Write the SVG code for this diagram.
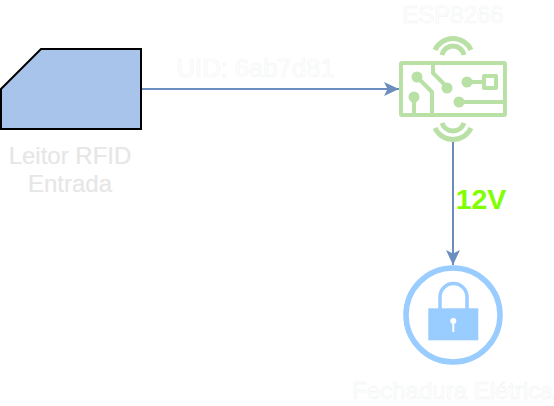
<svg xmlns="http://www.w3.org/2000/svg" width="554" height="406" viewBox="0 0 554 406">
<style>
text{font-family:"Liberation Sans",Arial,sans-serif;text-anchor:middle}
.lbl{font-size:24px;fill:#fff;stroke:#f1f4f4;stroke-width:.6}
.grey{font-size:24px;fill:#e6e6e6;stroke:#e9e9e9;stroke-width:.2}
.edge{fill:none;stroke:#6c8ebf;stroke-width:2}
.g{fill:none;stroke:#b9e0a5;stroke-width:4;stroke-linejoin:round}
.arc{fill:none;stroke:#b9e0a5;stroke-width:5}
.gf{fill:#b9e0a5}
</style>
<defs><marker id="a" markerUnits="userSpaceOnUse" markerWidth="16" markerHeight="16" refX="15" refY="7" orient="auto"><path d="M0 0L15 7L0 14L3.5 7Z" fill="#6c8ebf"/></marker></defs>
<rect width="554" height="406" fill="#fff"/>
<g id="connectors">
<path class="edge" d="M141 89H399" marker-end="url(#a)"/>
<path class="edge" d="M453 142V265" marker-end="url(#a)"/>
</g>
<g id="uid-label"><text class="lbl" x="255.500" y="77" style="font-size:25.600px">UID: 6ab7d81</text></g>
<g id="v-label"><text x="481" y="209" style="font-size:28.500px;font-weight:bold;fill:#80ff00">12V</text></g>
<g id="rfid">
<path d="M1 129V89L41 49H141V129Z" fill="#a9c4eb" stroke="#000" stroke-width="2"/>
<text class="grey" x="70" y="164">Leitor RFID</text>
<text class="grey" x="70" y="192">Entrada</text>
</g>
<g id="esp">
<text class="lbl" x="453" y="23">ESP8266</text>
<rect class="g" x="401" y="63" width="104" height="52" rx="1"/>
<path class="arc" d="M435 50A19.800 19.800 0 0 1 471 50M442 55A11.200 11.200 0 0 1 464 55M435 128A19.800 19.800 0 0 0 471 128M442 123A11.600 11.600 0 0 0 464 123"/>
<path class="g" d="M417 77L432 92V115M414 97V115M433 63V73L447 87M467 82H484M459 102H505"/>
<rect class="g" x="484" y="76" width="12" height="12"/>
<circle class="gf" cx="417" cy="77" r="5.500"/><circle class="gf" cx="414" cy="97" r="5.500"/><circle class="gf" cx="447" cy="88" r="5.500"/><circle class="gf" cx="467" cy="82" r="5.500"/><circle class="gf" cx="459" cy="102" r="5.500"/>
</g>
<g id="lock">
<circle cx="453" cy="315" r="47" fill="#fff" stroke="#99ccff" stroke-width="5.500"/>
<path d="M440 309V297A13.500 13.500 0 0 1 467 297V309" fill="none" stroke="#99ccff" stroke-width="3.500"/>
<rect x="428.300" y="308.300" width="50" height="32" fill="#99ccff"/>
<circle cx="453.300" cy="321" r="3" fill="#fff"/><rect x="452.300" y="321" width="2" height="11" fill="#fff"/>
<text class="lbl" x="453" y="399">Fechadura Elétrica</text>
</g>
</svg>
